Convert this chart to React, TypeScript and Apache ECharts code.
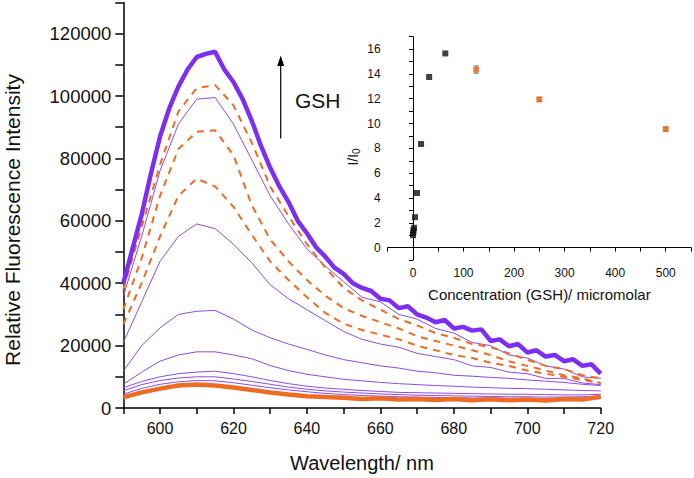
import React, { useEffect, useRef } from "react";
import * as echarts from "echarts";

// Emission spectra (nm vs intensity)
const wavelengths = [590, 595, 600, 605, 610, 615, 620, 625, 630, 635, 640, 645, 650, 655, 660, 665, 670, 675, 680, 685, 690, 695, 700, 705, 710, 715, 720];
const wavelengthsFine = [590, 592.5, 595, 597.5, 600, 602.5, 605, 607.5, 610, 612.5, 615, 617.5, 620, 622.5, 625, 627.5, 630, 632.5, 635, 637.5, 640, 642.5, 645, 647.5, 650, 652.5, 655, 657.5, 660, 662.5, 665, 667.5, 670, 672.5, 675, 677.5, 680, 682.5, 685, 687.5, 690, 692.5, 695, 697.5, 700, 702.5, 705, 707.5, 710, 712.5, 715, 717.5, 720];

// GSH 64 µM (max, thick purple) on the fine grid
const spec64 = [40000, 51000, 62000, 75000, 87000, 96000, 103000, 108500, 112500, 113500, 114200, 108500, 104500, 99000, 92000, 84000, 77000, 71000, 66000, 60000, 56000, 51500, 48500, 45000, 43000, 40000, 38500, 37500, 35000, 34500, 32000, 32600, 30000, 29000, 27500, 28200, 25500, 26000, 24800, 25200, 21500, 22000, 19800, 20500, 17800, 18500, 16500, 17000, 15000, 15600, 13500, 14000, 11000];
// GSH 125 µM (orange dashed)
const spec125 = [38000, 58000, 78000, 95000, 102500, 103500, 97000, 85000, 71000, 61500, 52500, 45000, 38500, 34500, 31500, 28500, 26500, 24000, 22500, 20500, 19500, 17500, 15500, 13500, 12500, 10500, 9500];
// GSH 32 µM (thin purple)
const spec32 = [35800, 55000, 76000, 91000, 99000, 99500, 91000, 79500, 68000, 59000, 51000, 45500, 40500, 35500, 34000, 30000, 28500, 25500, 24000, 21000, 20000, 17000, 16000, 13500, 12500, 10000, 9500];
// GSH 250 µM (orange dashed)
const spec250 = [31600, 48000, 68000, 83000, 88500, 89000, 81000, 65000, 54000, 47000, 41000, 36000, 32000, 29500, 27500, 25500, 23000, 21500, 20000, 18500, 17000, 15000, 13500, 12000, 10500, 9500, 8000];
// GSH 500 µM (orange dashed)
const spec500 = [26800, 40000, 55000, 68000, 73500, 71000, 64500, 55500, 47000, 41000, 35500, 30500, 27000, 25000, 23500, 22000, 20000, 18500, 17000, 16000, 14500, 13500, 12000, 11000, 10000, 9000, 8000];
// GSH 16 µM
const spec16 = [21000, 34000, 47000, 55000, 59000, 57500, 52500, 46500, 39500, 35000, 31500, 28000, 24500, 22000, 20500, 19500, 17500, 16500, 15500, 13500, 13000, 11500, 11000, 9500, 9500, 8000, 7500];
// GSH 8 µM
const spec8 = [11800, 20000, 25700, 30000, 31000, 31300, 28500, 25000, 22500, 20500, 18800, 17000, 15500, 14500, 13500, 12800, 11800, 11300, 10500, 10200, 9800, 9500, 9000, 8600, 8200, 7600, 7200];
// GSH 4 µM
const spec4 = [7600, 11500, 15000, 17000, 18000, 18000, 17000, 15800, 13600, 12000, 10800, 10000, 9200, 8700, 8200, 7800, 7500, 7200, 7000, 6700, 6500, 6300, 6200, 6000, 5800, 5600, 5500];
// GSH 2 µM
const spec2 = [6500, 8500, 10000, 11000, 11500, 11800, 11000, 10000, 8800, 7800, 7000, 6400, 6000, 5600, 5300, 5000, 4900, 4800, 4700, 4600, 4500, 4400, 4400, 4300, 4200, 4200, 4400];
// GSH 1 µM
const spec1 = [5500, 7500, 8800, 9600, 10000, 10000, 9300, 8500, 7600, 6700, 6000, 5500, 5100, 4800, 4500, 4300, 4100, 4000, 3900, 3800, 3700, 3600, 3600, 3500, 3500, 3600, 3800];
// GSH 0.5 µM
const spec05 = [4400, 6300, 7600, 8400, 8800, 8700, 8100, 7300, 6500, 5800, 5200, 4700, 4300, 4000, 3800, 3600, 3500, 3400, 3300, 3200, 3200, 3100, 3100, 3000, 3100, 3200, 3500];
// GSH 0 µM (thick orange)
const spec0 = [3400, 5000, 6200, 7200, 7500, 7200, 6600, 5800, 5000, 4300, 3800, 3500, 3300, 2900, 3100, 2700, 2900, 2600, 2900, 2500, 2800, 2500, 2700, 2400, 2900, 2700, 3600];

// Inset: I/I0 vs concentration
const concLow = [0, 0.5, 1, 2, 4, 8, 16, 32, 64];
const ratioLow = [1.0, 1.2, 1.4, 1.6, 2.45, 4.4, 8.35, 13.75, 15.65];
const concHigh = [125, 250, 500];
const ratioHigh = [14.35, 11.95, 9.55];
const ratioHighErr = [0.3, 0.15, 0.15];

const FONT = "'Liberation Sans', Arial, sans-serif";
const PURPLE_THICK = "#7c2ef2";
const PURPLE_THIN = "#8d4be6";
const ORANGE = "#ee6c22";

const toPairs = (ys: number[]) => wavelengths.map((w, i) => [w, ys[i]]);
const toPairsFine = (ys: number[]) => wavelengthsFine.map((w, i) => [w, ys[i]]);

export default function App() {
  const ref = useRef<HTMLDivElement>(null);
  useEffect(() => {
    document.body.style.margin = "0";
    const chart = echarts.init(ref.current!, null, { renderer: "svg" });

    const thin = (name: string, ys: number[]) => ({
      name, type: "line", xAxisIndex: 0, yAxisIndex: 0, data: toPairs(ys), showSymbol: false,
      lineStyle: { color: PURPLE_THIN, width: 1 }, z: 2,
    });
    const dashed = (name: string, ys: number[]) => ({
      name, type: "line", xAxisIndex: 0, yAxisIndex: 0, data: toPairs(ys), showSymbol: false,
      lineStyle: { color: ORANGE, width: 2, type: [7, 6] }, z: 3,
    });

    chart.setOption({
      animation: false,
      backgroundColor: "#ffffff",
      textStyle: { fontFamily: FONT },
      grid: [
        { left: 123.3, right: 694 - 600.7, top: 2.4, bottom: 478 - 408.7 },
        { left: 387.7, right: 694 - 691.7, top: 36.7, bottom: 478 - 260 },
      ],
      xAxis: [
        {
          gridIndex: 0, type: "value", min: 590, max: 720, interval: 10,
          name: "Wavelength/ nm", nameLocation: "middle", nameGap: 45,
          nameTextStyle: { fontSize: 20, color: "#111", fontFamily: FONT },
          axisLine: { lineStyle: { color: "#000", width: 1.5 } },
          axisTick: { inside: false, length: 6, lineStyle: { color: "#000", width: 1.5 } },
          axisLabel: {
            margin: 12, fontSize: 16, color: "#111", fontFamily: FONT,
            formatter: (v: number) => (v % 20 === 0 ? String(v) : ""),
          },
          splitLine: { show: false },
        },
        {
          gridIndex: 1, type: "value", min: -50, max: 550, interval: 50,
          name: "Concentration (GSH)/ micromolar", nameLocation: "middle", nameGap: 27,
          nameTextStyle: { fontSize: 15, color: "#111", fontFamily: FONT },
          axisLine: { lineStyle: { color: "#000", width: 1 } },
          axisTick: { length: 4, lineStyle: { color: "#000" } },
          axisLabel: {
            margin: 7, fontSize: 12, color: "#111", fontFamily: FONT,
            formatter: (v: number) => (v >= 0 && v % 100 === 0 ? String(v) : ""),
          },
          splitLine: { show: false },
        },
      ],
      yAxis: [
        {
          gridIndex: 0, type: "value", min: 0, max: 130000, interval: 10000,
          axisLine: { show: true, lineStyle: { color: "#000", width: 1.5 } },
          axisTick: { show: true, length: 8, lineStyle: { color: "#000", width: 1.5 } },
          axisLabel: {
            margin: 12, fontSize: 18.5, color: "#111", fontFamily: FONT,
            formatter: (v: number) => (v % 20000 === 0 ? String(v) : ""),
          },
          splitLine: { show: false },
        },
        {
          gridIndex: 1, type: "value", min: -1, max: 17, interval: 1,
          axisLine: { show: true, lineStyle: { color: "#000", width: 1 } },
          axisTick: { show: true, length: 4, lineStyle: { color: "#000" } },
          axisLabel: {
            margin: 7, fontSize: 12, color: "#111", fontFamily: FONT,
            formatter: (v: number) => (v >= 0 && v % 2 === 0 ? String(v) : ""),
          },
          splitLine: { show: false },
        },
      ],
      series: [
        thin("0.5 µM", spec05),
        thin("1 µM", spec1),
        thin("2 µM", spec2),
        thin("4 µM", spec4),
        thin("8 µM", spec8),
        thin("16 µM", spec16),
        thin("32 µM", spec32),
        dashed("500 µM", spec500),
        dashed("250 µM", spec250),
        dashed("125 µM", spec125),
        {
          name: "0 µM", type: "line", xAxisIndex: 0, yAxisIndex: 0, data: toPairs(spec0), showSymbol: false,
          lineStyle: { color: ORANGE, width: 4.5 }, z: 4,
        },
        {
          name: "64 µM", type: "line", xAxisIndex: 0, yAxisIndex: 0, data: toPairsFine(spec64), showSymbol: false,
          lineStyle: { color: PURPLE_THICK, width: 4.5 }, z: 5,
        },
        {
          name: "ratio", type: "scatter", xAxisIndex: 1, yAxisIndex: 1, symbol: "rect", symbolSize: 6,
          itemStyle: { color: "#111" }, data: concLow.map((c, i) => [c, ratioLow[i]]), z: 6,
        },
        {
          name: "err", type: "custom", xAxisIndex: 1, yAxisIndex: 1, z: 6,
          data: concHigh.map((c, i) => [c, ratioHigh[i], ratioHighErr[i]]),
          renderItem: (params: any, api: any) => {
            const x = api.value(0), y = api.value(1), e = api.value(2);
            const p1 = api.coord([x, y + e]);
            const p2 = api.coord([x, y - e]);
            return {
              type: "group",
              children: [
                { type: "line", shape: { x1: p1[0], y1: p1[1], x2: p2[0], y2: p2[1] }, style: { stroke: "#777", lineWidth: 1 } },
                { type: "line", shape: { x1: p1[0] - 2.5, y1: p1[1], x2: p1[0] + 2.5, y2: p1[1] }, style: { stroke: "#777", lineWidth: 1 } },
                { type: "line", shape: { x1: p2[0] - 2.5, y1: p2[1], x2: p2[0] + 2.5, y2: p2[1] }, style: { stroke: "#777", lineWidth: 1 } },
              ],
            };
          },
        },
        {
          name: "ratio high", type: "scatter", xAxisIndex: 1, yAxisIndex: 1, symbol: "rect", symbolSize: 6,
          itemStyle: { color: "#e8661c" }, data: concHigh.map((c, i) => [c, ratioHigh[i]]), z: 7,
        },
      ],
      graphic: [
        {
          type: "text", x: 12, y: 220, rotation: Math.PI / 2,
          style: { text: "Relative Fluorescence Intensity", fontSize: 21, fontFamily: FONT, fill: "#111", align: "center", verticalAlign: "middle" },
        },
        {
          type: "text", x: 353, y: 157, rotation: Math.PI / 2,
          style: {
            text: "{a|I/I}{b|0}", align: "center", verticalAlign: "middle",
            rich: {
              a: { fontSize: 14, fill: "#111", fontFamily: FONT },
              b: { fontSize: 10, fill: "#111", fontFamily: FONT, padding: [7, 0, 0, 0] },
            },
          },
        },
        { type: "line", shape: { x1: 280.7, y1: 138.5, x2: 280.7, y2: 62 }, style: { stroke: "#000", lineWidth: 1.2 } },
        { type: "polygon", shape: { points: [[277.2, 66], [284.2, 66], [280.7, 55.5]] }, style: { fill: "#000" } },
        {
          type: "text", x: 295, y: 100,
          style: { text: "GSH", fontSize: 21, fontFamily: FONT, fill: "#111", verticalAlign: "middle", align: "left" },
        },
      ],
    });
    return () => chart.dispose();
  }, []);
  return <div ref={ref} style={{ position: "absolute", left: 0, top: 0, width: 694, height: 478 }} />;
}
